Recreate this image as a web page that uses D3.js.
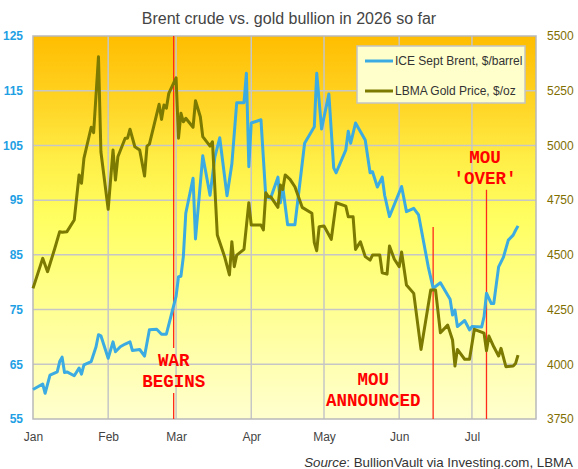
<!DOCTYPE html>
<html><head><meta charset="utf-8">
<script src="https://cdn.jsdelivr.net/npm/d3@7"></script>
<style>
body{margin:0;background:#fff}
svg{display:block}
text{font-family:Arial,"Liberation Sans",sans-serif}
text.ann{font-family:"Courier New","Liberation Mono",monospace}
</style>
</head><body>
<svg id="chart" width="578" height="469"></svg>
<script>
// ---- data ----
const brentDates = ["2026-01-01","2026-01-05","2026-01-06","2026-01-08","2026-01-11","2026-01-12","2026-01-13","2026-01-14","2026-01-15","2026-01-18","2026-01-20","2026-01-21","2026-01-22","2026-01-25","2026-01-27","2026-01-28","2026-01-29","2026-02-01","2026-02-03","2026-02-04","2026-02-06","2026-02-08","2026-02-10","2026-02-11","2026-02-14","2026-02-16","2026-02-18","2026-02-21","2026-02-23","2026-02-25","2026-02-27","2026-03-01","2026-03-02","2026-03-03","2026-03-04","2026-03-05","2026-03-08","2026-03-09","2026-03-12","2026-03-15","2026-03-17","2026-03-19","2026-03-22","2026-03-24","2026-03-26","2026-03-29","2026-03-30","2026-03-31","2026-04-01","2026-04-05","2026-04-07","2026-04-09","2026-04-12","2026-04-13","2026-04-14","2026-04-16","2026-04-19","2026-04-23","2026-04-27","2026-04-28","2026-04-30","2026-05-03","2026-05-05","2026-05-06","2026-05-10","2026-05-11","2026-05-12","2026-05-14","2026-05-18","2026-05-20","2026-05-21","2026-05-23","2026-05-25","2026-05-26","2026-05-28","2026-06-02","2026-06-04","2026-06-07","2026-06-09","2026-06-13","2026-06-15","2026-06-18","2026-06-22","2026-06-23","2026-06-24","2026-06-25","2026-06-28","2026-06-30","2026-07-01","2026-07-05","2026-07-06","2026-07-07","2026-07-09","2026-07-10","2026-07-12","2026-07-14","2026-07-16","2026-07-18","2026-07-19","2026-07-20"];
const brentValues = [60.4,61.4,59.7,63.0,63.6,65.5,66.3,63.5,63.6,62.9,64.3,63.2,64.9,65.5,68.2,70.4,70.2,66.1,69.1,67.3,68.2,68.7,69.1,67.5,67.7,66.5,71.3,71.4,70.5,70.5,74.0,77.4,81.0,81.1,84.7,92.6,99.0,87.9,103.1,95.9,102.9,106.4,95.8,101.6,112.8,112.8,118.2,101.1,109.1,109.7,95.6,95.4,99.2,94.5,97.4,90.5,90.5,105.4,108.4,118.2,108.0,114.4,100.9,100.0,104.2,107.6,105.4,109.1,106.0,100.0,100.2,97.4,99.2,95.9,92.0,97.5,92.9,93.5,92.3,82.8,78.9,79.9,76.9,74.0,74.9,71.9,73.0,71.3,71.9,71.8,73.7,78.0,76.1,76.1,82.8,84.6,87.7,88.6,89.5,90.3];

const goldDates = ["2026-01-01","2026-01-05","2026-01-07","2026-01-10","2026-01-12","2026-01-13","2026-01-15","2026-01-18","2026-01-20","2026-01-21","2026-01-22","2026-01-25","2026-01-26","2026-01-28","2026-01-29","2026-02-01","2026-02-03","2026-02-04","2026-02-05","2026-02-08","2026-02-09","2026-02-10","2026-02-12","2026-02-14","2026-02-16","2026-02-17","2026-02-18","2026-02-22","2026-02-23","2026-02-24","2026-02-25","2026-02-26","2026-03-01","2026-03-02","2026-03-03","2026-03-04","2026-03-05","2026-03-08","2026-03-09","2026-03-11","2026-03-12","2026-03-15","2026-03-16","2026-03-18","2026-03-21","2026-03-23","2026-03-24","2026-03-25","2026-03-26","2026-03-29","2026-03-31","2026-04-01","2026-04-05","2026-04-06","2026-04-07","2026-04-08","2026-04-09","2026-04-12","2026-04-13","2026-04-14","2026-04-15","2026-04-17","2026-04-19","2026-04-22","2026-04-26","2026-04-27","2026-04-28","2026-04-29","2026-05-01","2026-05-04","2026-05-06","2026-05-10","2026-05-11","2026-05-13","2026-05-14","2026-05-16","2026-05-18","2026-05-20","2026-05-21","2026-05-24","2026-05-25","2026-05-27","2026-05-28","2026-05-30","2026-06-01","2026-06-02","2026-06-04","2026-06-07","2026-06-10","2026-06-14","2026-06-16","2026-06-18","2026-06-21","2026-06-23","2026-06-24","2026-06-25","2026-06-28","2026-06-30","2026-07-02","2026-07-06","2026-07-07","2026-07-08","2026-07-10","2026-07-12","2026-07-13","2026-07-15","2026-07-18","2026-07-19","2026-07-20"];
const goldValues = [4347,4484,4423,4530,4606,4603,4606,4659,4865,4827,4941,5083,5058,5405,4971,4708,4979,4842,4948,5033,5033,5074,4994,4979,4860,4997,5006,5188,5119,5185,5170,5238,5309,5033,5147,5108,5124,5083,5204,5131,5040,4997,5017,4591,4492,4408,4560,4446,4499,4525,4738,4636,4636,4614,4784,4766,4766,4717,4819,4799,4865,4845,4811,4717,4690,4556,4519,4629,4632,4571,4738,4723,4674,4674,4525,4560,4492,4476,4499,4499,4418,4412,4540,4480,4446,4513,4362,4324,4068,4339,4339,4144,4179,4111,3992,4068,4023,4023,4160,4142,4062,4129,4080,4038,4073,3989,3992,4004,4042];

const brentTicks = [55,65,75,85,95,105,115,125];
const goldTicks = [3750,4000,4250,4500,4750,5000,5250,5500];
const monthTicks = ["2026-01-01","2026-02-01","2026-03-01","2026-04-01","2026-05-01","2026-06-01","2026-07-01"];
const eventDates = ["2026-02-28","2026-06-15","2026-07-07"];
const eventLabels = [["WAR","BEGINS"],["MOU","ANNOUNCED"],["MOU","'OVER'"]];
const seriesNames = ["ICE Sept Brent, $/barrel","LBMA Gold Price, $/oz"];
const titleText = "Brent crude vs. gold bullion in 2026 so far";

// ---- setup ----
const parse = d3.timeParse("%Y-%m-%d");
const L = 33, R = 536, T = 36, B = 419;
const blue = "#3cabe2", olive = "#7c7a00", red = "#ff2a1a";
const svg = d3.select("#chart");

const x = d3.scaleTime().domain([new Date(2026,0,1), new Date(2026,6,27,10)]).range([L, R]);
const yB = d3.scaleLinear().domain([55,125]).range([B, T]);
const yG = d3.scaleLinear().domain([3750,5500]).range([B, T]);

const brent = brentDates.map((d,i)=>({date:parse(d), v:brentValues[i]}));
const gold = goldDates.map((d,i)=>({date:parse(d), v:goldValues[i]}));

// gradient
const defs = svg.append("defs");
const grad = defs.append("linearGradient").attr("id","bg").attr("x1",0).attr("y1",0).attr("x2",0).attr("y2",1);
[[0,"#ffbd00"],[0.18,"#ffd526"],[0.33,"#ffef48"],[0.48,"#ffff62"],[0.7,"#ffff90"],[1,"#ffffcf"]]
  .forEach(([o,c])=>grad.append("stop").attr("offset",o).attr("stop-color",c));

svg.append("rect").attr("x",L).attr("y",T).attr("width",R-L).attr("height",B-T).attr("fill","url(#bg)");

// grid
const grid = svg.append("g").attr("stroke","#c6c6c6").attr("stroke-width",1.5);
grid.selectAll("line.h").data(brentTicks.slice(1,-1)).join("line")
  .attr("x1",L).attr("x2",R).attr("y1",d=>yB(d)).attr("y2",d=>yB(d));
grid.selectAll("line.v").data(monthTicks.slice(1)).join("line")
  .attr("y1",T).attr("y2",B).attr("x1",d=>x(parse(d))).attr("x2",d=>x(parse(d)));

// border
svg.append("rect").attr("x",L).attr("y",T).attr("width",R-L).attr("height",B-T)
  .attr("fill","none").attr("stroke","#b9b9b9").attr("stroke-width",1.5);

// event lines + labels
const annTop = [125, 90.1, 96.9];
const labelPos = [{dx:0, v:64.7},{dx:-60, v:61.2},{dx:-1.5, v:101.8}];
eventDates.forEach((ed,i)=>{
  const ex = x(parse(ed));
  const g = svg.append("g");
  const t = g.append("text").attr("class","ann").attr("text-anchor","middle").attr("fill","#ff0000")
    .attr("font-weight","bold").attr("font-size",17.5)
    .attr("x",ex+labelPos[i].dx).attr("y",yB(labelPos[i].v));
  eventLabels[i].forEach((s,j)=>{
    t.append("tspan").attr("x",ex+labelPos[i].dx).attr("dy",j?21:0).text(s);
  });
  if (i===0) {
    const yTop = yB(labelPos[i].v) - 18, yBot = yB(labelPos[i].v) + 21 + 6;
    g.append("line").attr("x1",ex).attr("x2",ex).attr("y1",yB(annTop[i])).attr("y2",yTop)
      .attr("stroke",red).attr("stroke-width",1.3);
    g.append("line").attr("x1",ex).attr("x2",ex).attr("y1",yBot).attr("y2",B)
      .attr("stroke",red).attr("stroke-width",1.3);
  } else {
    g.append("line").attr("x1",ex).attr("x2",ex).attr("y1",yB(annTop[i])).attr("y2",B)
      .attr("stroke",red).attr("stroke-width",1.3);
  }
});

// series lines
svg.append("path").datum(brent).attr("fill","none").attr("stroke",blue).attr("stroke-width",3)
  .attr("stroke-linejoin","round")
  .attr("d",d3.line().x(d=>x(d.date)).y(d=>yB(d.v)));
svg.append("path").datum(gold).attr("fill","none").attr("stroke",olive).attr("stroke-width",3)
  .attr("stroke-linejoin","round")
  .attr("d",d3.line().x(d=>x(d.date)).y(d=>yG(d.v)));

// axes
const axL = svg.append("g").attr("transform",`translate(${L},0)`)
  .call(d3.axisLeft(yB).tickValues(brentTicks).tickSize(0).tickPadding(10).tickFormat(d3.format("d")));
axL.select(".domain").remove();
axL.selectAll("text").attr("fill","#1f9fe4").attr("font-weight","bold").attr("font-size",12);

const axR = svg.append("g").attr("transform",`translate(${R},0)`)
  .call(d3.axisRight(yG).tickValues(goldTicks).tickSize(0).tickPadding(11).tickFormat(d3.format("d")));
axR.select(".domain").remove();
axR.selectAll("text").attr("fill","#7f6e00").attr("font-size",12);

const axB = svg.append("g").attr("transform",`translate(0,${B})`)
  .call(d3.axisBottom(x).tickValues(monthTicks.map(parse)).tickSize(0).tickPadding(13).tickFormat(d3.timeFormat("%b")));
axB.select(".domain").remove();
axB.selectAll("text").attr("fill","#444").attr("font-size",12);

// legend
const lg = svg.append("g");
lg.append("rect").attr("x",357).attr("y",46).attr("width",168).attr("height",57)
  .attr("fill","#ffffcc").attr("stroke","#c4c4c4").attr("stroke-width",1.5);
[blue, olive].forEach((c,i)=>{
  const yy = 61 + i*30;
  lg.append("line").attr("x1",365).attr("x2",393).attr("y1",yy).attr("y2",yy)
    .attr("stroke",c).attr("stroke-width",3);
  lg.append("text").attr("x",395).attr("y",yy).attr("dy","0.36em")
    .attr("font-size",12).attr("fill","#333").text(seriesNames[i]);
});

// title
svg.append("text").attr("x",289).attr("y",24).attr("text-anchor","middle")
  .attr("font-size",16).attr("fill","#444").text(titleText);

// source
const src = svg.append("text").attr("x",573).attr("y",467).attr("text-anchor","end")
  .attr("font-size",13.3).attr("fill","#333");
src.append("tspan").attr("font-style","italic").text("Source");
src.append("tspan").text(": BullionVault via Investing.com, LBMA");
</script>
</body></html>
